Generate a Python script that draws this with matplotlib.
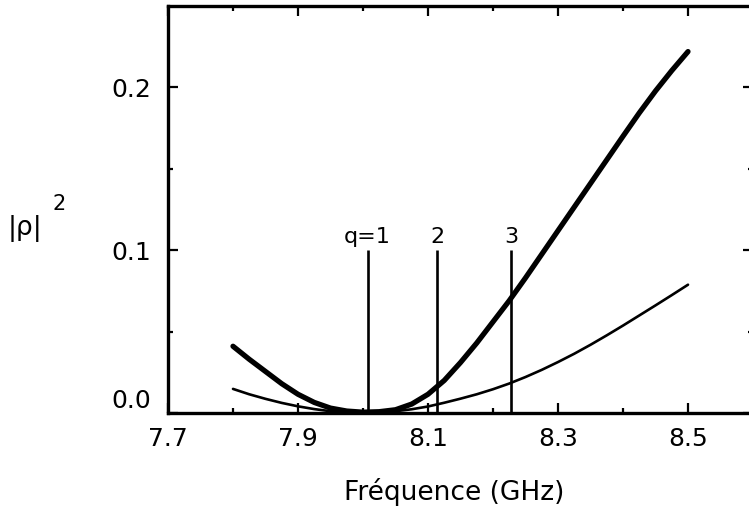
import matplotlib
matplotlib.use("Agg")
import matplotlib.pyplot as plt
from matplotlib.transforms import ScaledTranslation

plt.rcParams['font.family'] = ['DejaVu Sans']

# Frequency grid (GHz)
freq = [7.800, 7.825, 7.850, 7.875, 7.900, 7.925, 7.950, 7.975,
        8.000, 8.025, 8.050, 8.075, 8.100, 8.125, 8.150, 8.175,
        8.200, 8.225, 8.250, 8.275, 8.300, 8.325, 8.350, 8.375,
        8.400, 8.425, 8.450, 8.475, 8.500]
# |rho|^2, strong-coupling curve (thick)
rho2_thick = [0.041, 0.033, 0.0255, 0.018, 0.0115, 0.0065, 0.003, 0.0012,
              0.0005, 0.0008, 0.002, 0.0055, 0.0115, 0.020, 0.031, 0.043,
              0.056, 0.069, 0.083, 0.0975, 0.112, 0.1265, 0.141, 0.1555,
              0.170, 0.1843, 0.1978, 0.2103, 0.222]
# |rho|^2, weak-coupling curve (thin)
rho2_thin = [0.0148, 0.0115, 0.0087, 0.0062, 0.0041, 0.0024, 0.0011, 0.0003,
             0.0, 0.0003, 0.0011, 0.0023, 0.0040, 0.0063, 0.0088, 0.0115,
             0.0146, 0.0181, 0.0221, 0.0265, 0.0313, 0.0364, 0.0419, 0.0477,
             0.0537, 0.0599, 0.0661, 0.0724, 0.0788]

# Resonance markers
q_freq = [8.007, 8.114, 8.228]
q_labels = ["q=1", "2", "3"]
q_height = 0.1

x_major = [7.7, 7.9, 8.1, 8.3, 8.5]
x_minor = [7.8, 8.0, 8.2, 8.4]
y_major = [0.0, 0.1, 0.2]
y_minor = [0.05, 0.15]
y_ticklabels = ["0.0", "0.1", "0.2"]

W, H = 749, 515
fig = plt.figure(figsize=(W / 100, H / 100), dpi=100)
ax = fig.add_axes([168 / W, (H - 413) / H, (753 - 168) / W, (413 - 6) / H])

ax.plot(freq, rho2_thick, color='black', lw=3.8, solid_capstyle='round',
        solid_joinstyle='round')
ax.plot(freq, rho2_thin, color='black', lw=1.9, solid_capstyle='round',
        solid_joinstyle='round')

for f, lab in zip(q_freq, q_labels):
    ax.vlines(f, 0, q_height, color='black', lw=1.9)
    ax.text(f, q_height + 0.002, lab, ha='center', va='bottom', fontsize=16)

ax.set_xlim(7.7, 8.6)
ax.set_ylim(0, 0.25)
ax.set_xticks(x_major)
ax.set_xticklabels([f"{v:.1f}" for v in x_major])
ax.set_xticks(x_minor, minor=True)
ax.set_yticks(y_major)
ax.set_yticklabels(y_ticklabels)
ax.set_yticks(y_minor, minor=True)

for s in ax.spines.values():
    s.set_linewidth(2.4)

ax.tick_params(which='both', direction='in', top=True, right=True,
               width=1.6, labelsize=18)
ax.tick_params(which='major', length=7.5)
ax.tick_params(which='minor', length=3.8)
ax.tick_params(axis='x', which='major', pad=10)
ax.tick_params(axis='y', which='major', pad=12)

# lift the "0.0" label clear of the x tick labels
t0 = ax.yaxis.get_major_ticks()[0]
t0.label1.set_transform(t0.label1.get_transform() +
                        ScaledTranslation(0, 14 / 100, fig.dpi_scale_trans))

fig.text(454 / W, 1 - 500 / H, "Fréquence (GHz)", ha='center', va='baseline',
         fontsize=19)
fig.text(8 / W, 1 - 229 / H, "|ρ|", ha='left', va='center', fontsize=19)
fig.text(53 / W, 1 - 204 / H, "2", ha='left', va='center', fontsize=15)

fig.savefig("out.png", dpi=100)
